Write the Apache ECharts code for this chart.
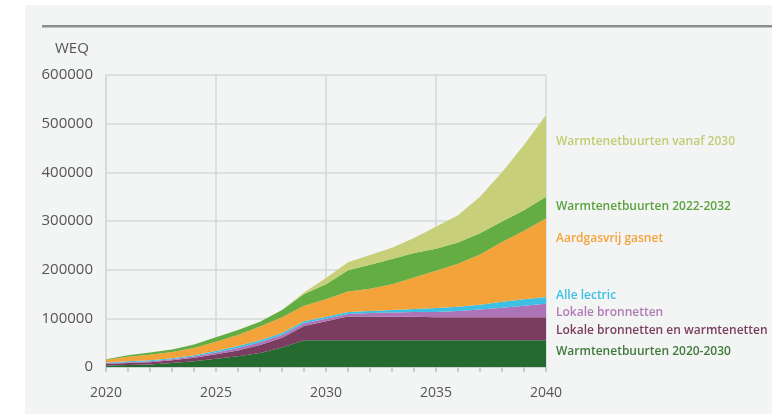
<!DOCTYPE html>
<html>
<head>
<meta charset="utf-8">
<script src="https://cdn.jsdelivr.net/npm/echarts@6/dist/echarts.min.js"></script>
<style>
  html, body { margin: 0; padding: 0; background: #ffffff; }
  #chart { width: 772px; height: 414px; }
</style>
</head>
<body>
<div id="chart"></div>
<script>
const years = ['2020', '2021', '2022', '2023', '2024', '2025', '2026', '2027', '2028', '2029', '2030',
  '2031', '2032', '2033', '2034', '2035', '2036', '2037', '2038', '2039', '2040']

// WEQ per laag (gestapeld, van onder naar boven)
const warmte2020 = [3000, 4000, 5000, 8000, 12000, 17000, 22000, 29000, 40000, 55000, 55000,
  55000, 55000, 55000, 55000, 55000, 55000, 55000, 55000, 55000, 55000]
const lokaalWarmte = [3000, 4000, 5000, 6000, 7000, 9000, 12000, 16000, 20000, 29000, 39000,
  49000, 49000, 48000, 48000, 47000, 47000, 47000, 47000, 47000, 47000]
const lokaal = [2000, 2000, 2000, 2000, 3000, 4000, 5000, 6000, 6000, 6000, 5000,
  5000, 7000, 9000, 10000, 11000, 13000, 16000, 20000, 24000, 28000]
const allElectric = [1000, 2000, 2000, 2000, 2000, 3000, 4000, 4000, 4000, 4000, 4000,
  4000, 4000, 5000, 6000, 8000, 9000, 10000, 12000, 13000, 14000]
const gasnet = [6000, 9000, 11000, 13000, 15000, 19000, 23000, 28000, 32000, 32000, 36000,
  42000, 46000, 53000, 65000, 77000, 88000, 103000, 123000, 141000, 161000]
const warmte2022 = [1000, 3000, 5000, 5000, 7000, 9000, 10000, 10000, 15000, 24000, 31000,
  44000, 49000, 52000, 50000, 45000, 44000, 44000, 42000, 42000, 45000]
const warmte2030 = [0, 0, 0, 0, 0, 0, 0, 0, 0, 3000, 13000,
  16000, 20000, 23000, 31000, 45000, 56000, 75000, 101000, 134000, 168000]

const seriesNames = ['Warmtenetbuurten 2020-2030', 'Lokale bronnetten en warmtenetten', 'Lokale bronnetten',
  'Alle lectric', 'Aardgasvrij gasnet', 'Warmtenetbuurten 2022-2032', 'Warmtenetbuurten vanaf 2030']
const seriesData = [warmte2020, lokaalWarmte, lokaal, allElectric, gasnet, warmte2022, warmte2030]
const seriesColors = ['#256b2f', '#7a3d5f', '#ae72b6', '#3ec0e4', '#f4a33a', '#63ad42', '#c7cf79']
const labelColors = ['#3f7a3a', '#7a3d5f', '#b07ab8', '#3ec0e4', '#f4a33a', '#5aa33e', '#c3cb72']
const labelY = [353, 332, 314, 297, 240, 208, 143]

const chart = echarts.init(document.getElementById('chart'))
const axisFont = 'Open Sans'

chart.setOption({
  animation: false,
  backgroundColor: '#ffffff',
  graphic: [
    { type: 'rect', z: -10, shape: { x: 25, y: 5, width: 747, height: 409 }, style: { fill: '#f3f4f4' } },
    { type: 'rect', z: -5, shape: { x: 42, y: 25, width: 730, height: 2.5 }, style: { fill: '#8c8e8e' } },
    {
      type: 'text', left: 55, top: 41,
      style: { text: 'WEQ', fontFamily: axisFont, fontSize: 15, fill: '#555555' },
    },
    ...seriesNames.map((name, i) => ({
      type: 'text',
      left: 556,
      top: labelY[i] - 7,
      style: { text: name, fontFamily: axisFont, fontSize: 12, fontWeight: 600, fill: labelColors[i] },
    })),
  ],
  grid: { left: 106, right: 226, top: 75, bottom: 47 },
  xAxis: {
    type: 'category',
    data: years,
    boundaryGap: false,
    axisLine: { lineStyle: { color: '#c9d0d0', width: 1.5 } },
    axisTick: { show: true, interval: 0, length: 5, lineStyle: { color: '#b9c1c1', width: 1.5 } },
    axisLabel: { interval: 4, margin: 19, color: '#555555', fontFamily: axisFont, fontSize: 14 },
    splitLine: { show: true, interval: 4, lineStyle: { color: '#d3dada', width: 1.5 } },
  },
  yAxis: {
    type: 'value',
    min: 0,
    max: 600000,
    interval: 100000,
    axisLine: { show: true, lineStyle: { color: '#d3dada', width: 1.5 } },
    axisTick: { show: false },
    axisLabel: {
      margin: 13, color: '#555555', fontFamily: axisFont, fontSize: 15,
      formatter: v => String(v),
    },
    splitLine: { lineStyle: { color: '#d3dada', width: 1.5 } },
  },
  series: seriesNames.map((name, i) => ({
    name,
    type: 'line',
    stack: 'weq',
    data: seriesData[i],
    showSymbol: false,
    smooth: false,
    lineStyle: { width: 0 },
    areaStyle: { color: seriesColors[i], opacity: 1 },
    itemStyle: { color: seriesColors[i] },
    z: 3,
  })),
})
</script>
</body>
</html>
